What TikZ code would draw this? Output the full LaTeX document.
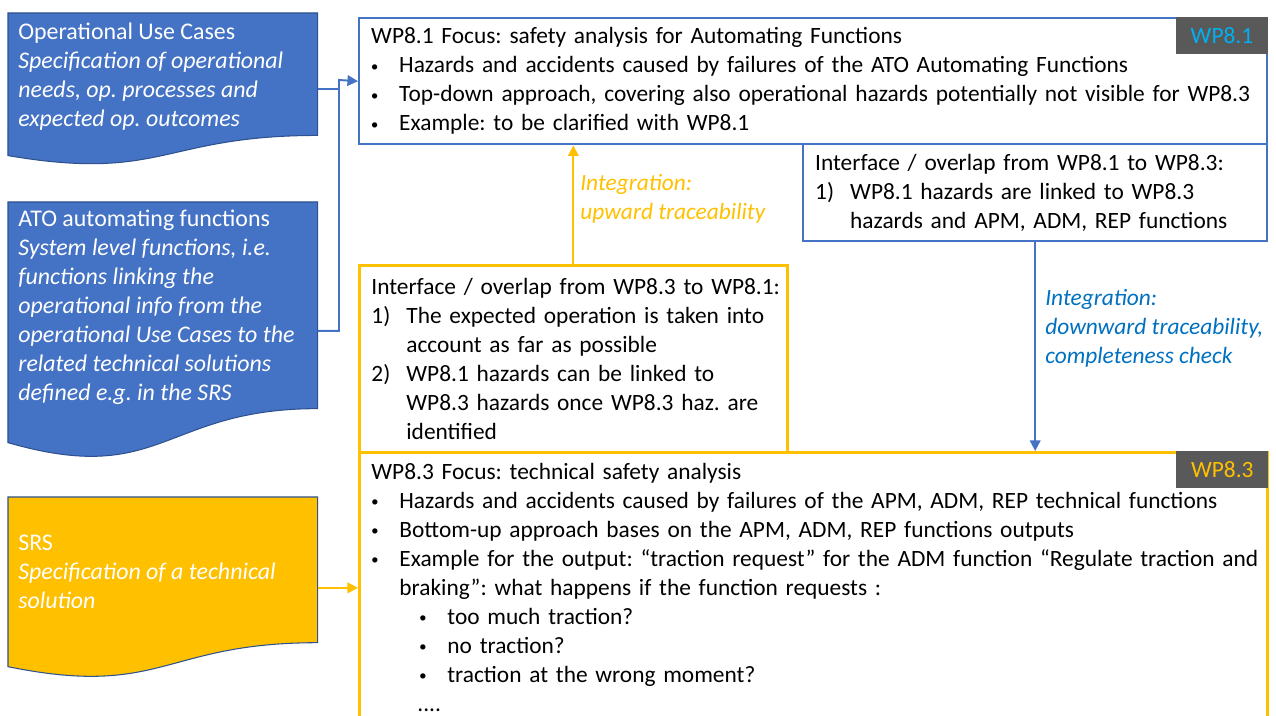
\documentclass[tikz,border=0pt]{standalone}
\usepackage{fontspec}
\setmainfont{Carlito}
\usetikzlibrary{arrows.meta,calc}
\setlength{\parindent}{0pt}
\frenchspacing
\definecolor{DocBlue}{HTML}{4472C4}
\definecolor{DocEdge}{HTML}{2F528F}
\definecolor{Gold}{HTML}{FFC000}
\definecolor{TagGrey}{HTML}{595959}
\definecolor{TagCyan}{HTML}{00B0F0}
\definecolor{LabelBlue}{HTML}{0070C0}
\newcommand{\docwave}[2]{\filldraw[fill=#2,draw=DocEdge,line width=0.6pt] (#1.north west)--(#1.north east)--($(#1.north east)!0.802!(#1.south east)$) .. controls ($(#1.north)!0.802!(#1.south)$) and ($(#1.north)!1.107!(#1.south)$) .. ($(#1.north west)!0.934!(#1.south west)$)--cycle;}
\newcommand{\dotmark}{\raisebox{0.25ex}{\scriptsize$\bullet$}}
\newcommand{\bul}[1]{\par\noindent\makebox[0.56cm][l]{\dotmark}\mbox{#1}}
\newcommand{\subbul}[1]{\par\noindent\hspace*{0.96cm}\makebox[0.56cm][l]{\dotmark}\mbox{#1}}
\newcommand{\numitem}[2]{\par\noindent\makebox[0.7cm][l]{#1}\mbox{#2}}
\newcommand{\cont}[2]{\par\noindent\hspace*{#1}\mbox{#2}}
\tikzset{
  txt/.style={font=\fontsize{13.3}{16.5}\selectfont},
  docframe/.style={anchor=north west,inner sep=0pt,minimum width=6.18cm},
  doctext/.style={anchor=north west,align=left,text=white,inner sep=0pt,font=\fontsize{13.6}{16.5}\selectfont},
  wpbox/.style={txt,anchor=north west,align=left,inner xsep=0.24cm,inner ysep=0.16cm,line width=1.4pt,fill=white},
  tag/.style={txt,anchor=north east,fill=TagGrey,minimum width=1.84cm,minimum height=0.74cm,inner sep=0pt},
  lbl/.style={anchor=north west,align=left,inner sep=0pt,font=\fontsize{13.3}{16.5}\selectfont\itshape}
}
\begin{document}
\begin{tikzpicture}[x=0.02cm,y=-0.02cm,>={Triangle[length=6pt,width=6pt]}]
\useasboundingbox (0,0) rectangle (1276,716); \clip (0,0) rectangle (1276,716);
% source documents on the left
\node[docframe,minimum height=3.04cm] (ouc) at (8,13){}; \docwave{ouc}{DocBlue}
\node[doctext] (ouct) at ([shift={(10,10)}]ouc.north west){Operational Use Cases\\\itshape Specification of operational\\\itshape needs, op. processes and\\\itshape expected op. outcomes};
\node[docframe,minimum height=5.14cm] (ato) at (8,202){}; \docwave{ato}{DocBlue}
\node[doctext] (atot) at ([shift={(10,8)}]ato.north west){ATO automating functions\\\itshape System level functions, i.e.\\\itshape functions linking the\\\itshape operational info from the\\\itshape operational Use Cases to the\\\itshape related technical solutions\\\itshape defined e.g. in the SRS};
\node[docframe,minimum height=3.62cm] (srs) at (8,497){}; \docwave{srs}{Gold}
\node[doctext] (srst) at ([shift={(10,38)}]srs.north west){SRS\\\itshape Specification of a technical\\\itshape solution};
% WP8.1 boxes
\node[wpbox,draw=DocBlue,minimum width=18.16cm,minimum height=2.52cm,text width=17.68cm] (wp1) at (358,17){\mbox{WP8.1 Focus: safety analysis for Automating Functions}\bul{Hazards and accidents caused by failures of the ATO Automating Functions}\bul{Top-down approach, covering also operational hazards potentially not visible for\ WP8.3}\bul{Example: to be clarified with WP8.1}\par};
\node[tag,text=TagCyan] (tag1) at (wp1.north east){WP8.1};
\node[wpbox,draw=DocBlue,minimum width=9.28cm,minimum height=1.94cm,text width=8.8cm] (ifb) at (802,143){\mbox{Interface / overlap from WP8.1 to WP8.3:}\numitem{1)}{WP8.1 hazards are linked to WP8.3}\cont{0.7cm}{hazards and APM, ADM, REP functions}\par};
% WP8.3 boxes
\node[wpbox,draw=Gold,line width=1.6pt,minimum width=8.56cm,minimum height=3.74cm,text width=8.08cm] (ifa) at (358,264){\mbox{Interface / overlap from WP8.3 to WP8.1:}\numitem{1)}{The expected operation is taken into}\cont{0.7cm}{account as far as possible}\numitem{2)}{WP8.1 hazards can be linked to}\cont{0.7cm}{WP8.3 hazards once WP8.3 haz. are}\cont{0.7cm}{identified}\par};
\node[wpbox,draw=Gold,line width=1.6pt,inner ysep=0.22cm,minimum width=18.16cm,text width=17.68cm] (wp3) at (358,451){\mbox{WP8.3 Focus: technical safety analysis}\bul{Hazards and accidents caused by failures of the APM, ADM, REP technical functions}\bul{Bottom-up approach bases on the APM, ADM, REP functions outputs}\bul{Example for the output: “traction request” for the ADM function “Regulate traction and}\cont{0.56cm}{braking”: what happens if the function requests :}\subbul{too much traction?}\subbul{no traction?}\subbul{traction at the wrong moment?}\cont{0.92cm}{....}\cont{0cm}{}\par};
\node[tag,text=Gold] (tag3) at (wp3.north east){WP8.3};
% connectors
\coordinate (jn) at (339,80);
\draw[DocBlue,line width=1.1pt] (ouc.east) -| (jn);
\draw[DocBlue,line width=1.1pt,->] (ato.east) -| (jn) -- (wp1.west);
\draw[Gold,line width=1.1pt,->] (srs.east) -- (srs.east -| wp3.west);
\draw[Gold,line width=1.1pt,->] (ifa.north) -- (ifa.north |- wp1.south);
\draw[DocBlue,line width=1.1pt,->] (ifb.south) -- (ifb.south |- wp3.north);
\node[lbl,text=Gold] (uplbl) at (580,174){Integration:\\upward traceability};
\node[lbl,text=LabelBlue] (downlbl) at (1045,289){Integration:\\downward traceability,\\completeness check};
\end{tikzpicture}
\end{document}
